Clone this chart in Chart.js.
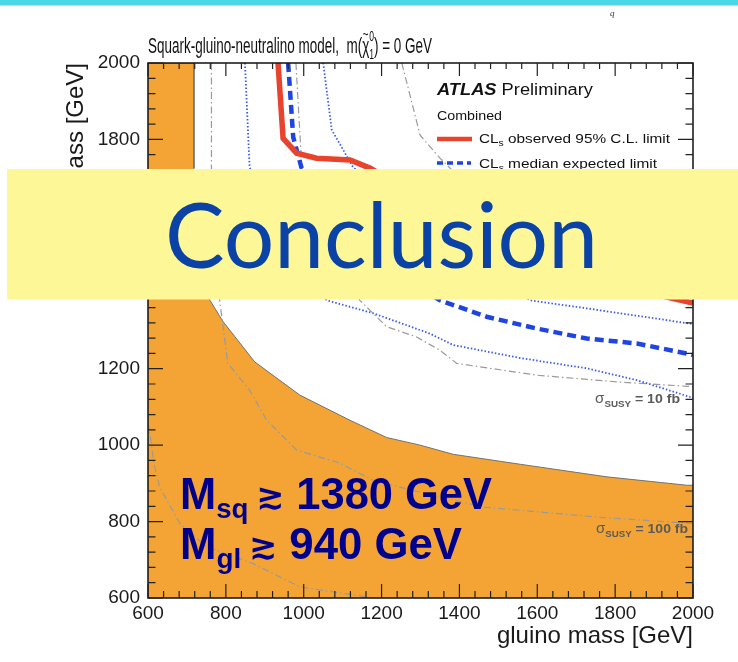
<!DOCTYPE html>
<html>
<head>
<meta charset="utf-8">
<script src="https://cdn.jsdelivr.net/npm/chart.js@4.4.1/dist/chart.umd.min.js"></script>
<style>
  html, body { margin: 0; padding: 0; background: #fff; }
  canvas { display: block; }
</style>
</head>
<body>
<canvas id="chart" width="738" height="662"></canvas>
<script>
// === Squark-gluino-neutralino exclusion plot (slide "Conclusion") ===
// all values in GeV: x = gluino mass, y = squark mass

const xTicks = [600, 800, 1000, 1200, 1400, 1600, 1800, 2000];
const yTicks = [600, 800, 1000, 1200, 1400, 1600, 1800, 2000];

// orange excluded region (edge of the filled area)
const excludedGluino = [600, 718, 718, 745, 759, 793, 874, 990, 1119, 1213, 1299, 1384, 1556, 1779, 1985, 2000];
const excludedSquark = [2000, 2000, 1725, 1500, 1379, 1323, 1218, 1131, 1065, 1020, 1000, 976, 950, 917, 895, 895];

// CLs observed 95% C.L. limit
const observedGluino = [934, 947, 982, 1033, 1119, 1170, 1380, 1640, 1880, 2000];
const observedSquark = [2000, 1803, 1764, 1751, 1746, 1725, 1600, 1480, 1400, 1372];

// CLs median expected limit and its +-1 sigma band
const expectedGluino = [960, 973, 994, 1150, 1350, 1470, 1599, 1727, 1856, 1993, 2000];
const expectedSquark = [2000, 1806, 1727, 1500, 1379, 1336, 1305, 1279, 1266, 1238, 1236];
const expDownGluino = [849, 861, 950, 1059, 1179, 1324, 1384, 1556, 1727, 1856, 1993, 2000];
const expDownSquark = [2000, 1727, 1500, 1379, 1345, 1292, 1262, 1228, 1201, 1170, 1126, 1124];
const expUpGluino = [1050, 1072, 1127, 1350, 1581, 1727, 1993, 2000];
const expUpSquark = [2000, 1825, 1727, 1550, 1379, 1358, 1318, 1317];

// sigma_SUSY iso-cross-section lines
const xs1Gluino = [1252, 1299, 1350, 1450, 1600, 2000];
const xs1Squark = [2000, 1811, 1751, 1650, 1560, 1450];
const xs10Gluino = [980, 995, 1050, 1144, 1213, 1290, 1350, 1393, 1599, 1813, 1985, 2000];
const xs10Squark = [2000, 1727, 1550, 1379, 1310, 1283, 1248, 1214, 1183, 1165, 1154, 1153];
const xs100Gluino = [763, 763, 784, 805, 861, 905, 982, 1093, 1178, 1247, 1461, 1762, 1985, 2000];
const xs100Squark = [2000, 1725, 1379, 1214, 1144, 1065, 987, 953, 908, 890, 838, 811, 796, 795];
const xs1000Gluino = [600, 605, 615, 630, 682, 750, 870, 990, 1076, 1162, 1185];
const xs1000Squark = [1060, 1030, 952, 890, 795, 734, 690, 629, 616, 603, 600];

const COLORS = {
    orange: '#f4a434',
    edge: '#727272',
    red: '#e8432d',
    blue: '#1f44e0',
    dotted: '#3a5bf0',
    gray: '#9a9a9a',
    navy: '#00008c',
    banner: '#fdf797',
    bannerText: '#0a42a6',
    cyan: '#4bd6e8'
};

const SANS = '"Liberation Sans", Arial, Helvetica, sans-serif';

const pts = (xs, ys) => xs.map((x, i) => ({ x: x, y: ys[i] }));

function lineSet(label, xs, ys, color, width, dash, order) {
    return {
        label: label,
        data: pts(xs, ys),
        showLine: true,
        borderColor: color,
        borderWidth: width,
        borderDash: dash,
        pointRadius: 0,
        fill: false,
        order: order
    };
}

// draws a row of text runs (sub/superscripts), optionally squeezed to a width
function drawRuns(ctx, x, y, runs, o) {
    ctx.save();
    ctx.textBaseline = 'alphabetic';
    ctx.textAlign = 'left';
    let total = 0;
    runs.forEach(r => {
        ctx.font = r.font;
        r.w = r.stack ? Math.max(...r.stack.map(s => ctx.measureText(s).width)) : ctx.measureText(r.t).width;
        total += r.w;
    });
    const sx = o.width ? o.width / total : (o.sx || 1);
    const x0 = o.align === 'right' ? x - total * sx : x;
    ctx.translate(x0, y);
    ctx.scale(sx, 1);
    ctx.fillStyle = o.color;
    let cx = 0;
    runs.forEach(r => {
        ctx.font = r.font;
        if (r.stack) {
            ctx.fillText(r.stack[0], cx, r.up);
            ctx.fillText(r.stack[1], cx, r.down);
        } else {
            ctx.fillText(r.t, cx, r.dy || 0);
            if (r.tilde) {
                ctx.font = r.tilde;
                const tw = ctx.measureText('~').width;
                ctx.fillText('~', cx + (r.w - tw) / 2, r.tildeY);
            }
        }
        cx += r.w;
    });
    ctx.restore();
}

const overlayPlugin = {
    id: 'overlay',
    afterDatasetsDraw(chart) {
        const ctx = chart.ctx;
        const a = chart.chartArea;
        const xs = chart.scales.x;
        const ys = chart.scales.y;

        // frame
        ctx.save();
        ctx.strokeStyle = '#111';
        ctx.lineWidth = 1.5;
        ctx.strokeRect(a.left, a.top, a.right - a.left, a.bottom - a.top);

        // inward ROOT-style ticks on all four sides
        ctx.lineWidth = 1.2;
        ctx.strokeStyle = '#222';
        ctx.beginPath();
        for (let v = 600; v <= 2000; v += 40) {
            const major = v % 200 === 0;
            const px = xs.getPixelForValue(v);
            const py = ys.getPixelForValue(v);
            const lx = major ? 14 : 7;
            const ly = major ? 15 : 7.5;
            ctx.moveTo(px, a.bottom); ctx.lineTo(px, a.bottom - lx);
            ctx.moveTo(px, a.top); ctx.lineTo(px, a.top + lx - 1);
            ctx.moveTo(a.left, py); ctx.lineTo(a.left + ly, py);
            ctx.moveTo(a.right, py); ctx.lineTo(a.right - ly, py);
        }
        ctx.stroke();
        ctx.restore();

        // cross-section labels
        const lab = (t) => [
            { t: 'σ', font: '14px ' + SANS },
            { t: 'SUSY', font: 'bold 9px ' + SANS, dy: 4 },
            { t: ' = ' + t, font: 'bold 13px ' + SANS }
        ];
        drawRuns(ctx, a.right - 13, 403, lab('10 fb'), { align: 'right', width: 85, color: '#5a5a5a' });
        drawRuns(ctx, a.right - 5, 533, lab('100 fb'), { align: 'right', width: 92, color: '#5a5a5a' });

        // ATLAS legend
        const lx0 = 437;
        drawRuns(ctx, lx0, 94.5, [
            { t: 'ATLAS', font: 'bold italic 16px ' + SANS },
            { t: ' Preliminary', font: '16px ' + SANS }
        ], { width: 156, color: '#111' });
        drawRuns(ctx, lx0, 119.5, [{ t: 'Combined', font: '12.5px ' + SANS }], { width: 65, color: '#111' });

        ctx.save();
        ctx.lineWidth = 4.5;
        ctx.strokeStyle = COLORS.red;
        ctx.beginPath(); ctx.moveTo(lx0, 139); ctx.lineTo(lx0 + 35, 139); ctx.stroke();
        ctx.lineWidth = 3.5;
        ctx.strokeStyle = COLORS.blue;
        ctx.setLineDash([6, 4]);
        ctx.beginPath(); ctx.moveTo(lx0, 163); ctx.lineTo(lx0 + 34, 163); ctx.stroke();
        ctx.restore();

        const cl = (rest) => [
            { t: 'CL', font: '13.5px ' + SANS },
            { t: 's', font: '9px ' + SANS, dy: 3 },
            { t: rest, font: '13.5px ' + SANS }
        ];
        drawRuns(ctx, 479, 143, cl(' observed 95% C.L. limit'), { width: 191, color: '#111' });
        drawRuns(ctx, 479, 167.5, cl(' median expected limit'), { width: 178, color: '#111' });

        // plot title
        drawRuns(ctx, 148, 53, [
            { t: 'Squark-gluino-neutralino model,  m(', font: '22px ' + SANS },
            { t: 'χ', font: '22px ' + SANS, tilde: '16px ' + SANS, tildeY: -13 },
            { stack: ['0', '1'], font: '14px ' + SANS, up: -12, down: 6 },
            { t: ') = 0 GeV', font: '22px ' + SANS }
        ], { width: 284, color: '#111' });

        // mass limits written on the slide
        const big = 'bold 44px ' + SANS;
        const sub = 'bold 28px ' + SANS;
        const sim = 'bold 34px "DejaVu Sans", sans-serif';
        drawRuns(ctx, 180, 509, [
            { t: 'M', font: big },
            { t: 'sq ', font: sub, dy: 9 },
            { t: '≳', font: sim, dy: -2 },
            { t: ' 1380 GeV', font: big }
        ], { width: 312, color: COLORS.navy });
        drawRuns(ctx, 180, 559, [
            { t: 'M', font: big },
            { t: 'gl ', font: sub, dy: 9 },
            { t: '≳', font: sim, dy: -2 },
            { t: ' 940 GeV', font: big }
        ], { width: 282, color: COLORS.navy });
    },
    afterDraw(chart) {
        const ctx = chart.ctx;
        ctx.save();
        // slide decoration: cyan strip and stray text of the page above
        ctx.fillStyle = COLORS.cyan;
        ctx.fillRect(0, 0, 738, 5.5);
        ctx.fillStyle = '#333';
        ctx.font = 'italic 9px "Liberation Serif", serif';
        ctx.fillText('q', 610, 16);

        // "Conclusion" banner
        ctx.fillStyle = COLORS.banner;
        ctx.fillRect(7, 169, 731, 130.5);
        ctx.restore();
        drawRuns(ctx, 165, 268, [{ t: 'Conclusion', font: '92px Lato, "Open Sans", sans-serif' }],
            { width: 433, color: COLORS.bannerText });
    }
};

const tickLabel = v => String(v);

new Chart(document.getElementById('chart'), {
    type: 'scatter',
    data: {
        datasets: [
            {
                label: 'excluded',
                data: pts(excludedGluino, excludedSquark),
                showLine: true,
                borderColor: COLORS.edge,
                borderWidth: 1,
                backgroundColor: COLORS.orange,
                fill: 'start',
                pointRadius: 0,
                order: 10
            },
            lineSet('1000 fb', xs1000Gluino, xs1000Squark, COLORS.gray, 1.2, [7, 3, 1.5, 3], 6),
            lineSet('100 fb', xs100Gluino, xs100Squark, COLORS.gray, 1.2, [7, 3, 1.5, 3], 6),
            lineSet('10 fb', xs10Gluino, xs10Squark, COLORS.gray, 1.2, [7, 3, 1.5, 3], 6),
            lineSet('1 fb', xs1Gluino, xs1Squark, COLORS.gray, 1.2, [7, 3, 1.5, 3], 6),
            lineSet('expected -1σ', expDownGluino, expDownSquark, COLORS.dotted, 1.8, [1.5, 2], 4),
            lineSet('expected +1σ', expUpGluino, expUpSquark, COLORS.dotted, 1.8, [1.5, 2], 4),
            lineSet('expected', expectedGluino, expectedSquark, COLORS.blue, 4.5, [9, 5], 3),
            lineSet('observed', observedGluino, observedSquark, COLORS.red, 5.5, [], 1)
        ]
    },
    options: {
        responsive: false,
        animation: false,
        events: [],
        layout: { padding: { left: 0, top: 63, right: 45, bottom: 0 } },
        plugins: {
            legend: { display: false },
            tooltip: { enabled: false }
        },
        scales: {
            x: {
                type: 'linear',
                min: 600,
                max: 2000,
                grid: { display: false, drawTicks: false },
                border: { display: false },
                afterBuildTicks: s => { s.ticks = xTicks.map(v => ({ value: v })); },
                afterFit: s => { s.height = 64; },
                ticks: { padding: 4, color: '#1a1a1a', font: { family: SANS, size: 19 }, callback: tickLabel },
                title: {
                    display: true, text: 'gluino mass [GeV]', align: 'end', color: '#1a1a1a',
                    padding: { top: 0, bottom: 11 }, font: { family: SANS, size: 24 }
                }
            },
            y: {
                type: 'linear',
                min: 600,
                max: 2000,
                grid: { display: false, drawTicks: false },
                border: { display: false },
                afterBuildTicks: s => { s.ticks = yTicks.map(v => ({ value: v })); },
                afterFit: s => { s.width = 148; },
                ticks: { padding: 8, color: '#1a1a1a', font: { family: SANS, size: 19 }, callback: tickLabel },
                title: {
                    display: true, text: 'squark mass [GeV]', align: 'end', color: '#1a1a1a',
                    padding: { top: 62, bottom: 0 }, font: { family: SANS, size: 24 }
                }
            }
        }
    },
    plugins: [overlayPlugin]
});
</script>
</body>
</html>
